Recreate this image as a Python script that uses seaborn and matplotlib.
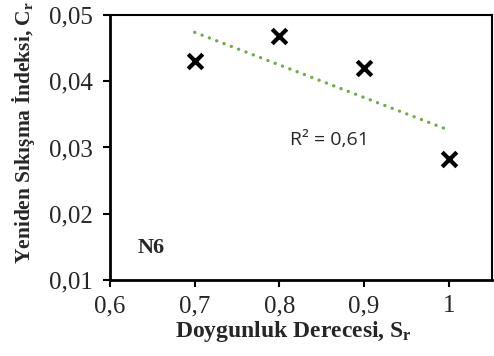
import numpy as np
import pandas as pd
import seaborn as sns
import matplotlib
matplotlib.use("Agg")
import matplotlib.pyplot as plt

sns.set_style("white")
plt.rcParams['font.family'] = ['Liberation Serif', 'DejaVu Serif']
plt.rcParams['mathtext.default'] = 'regular'

sr = [0.7, 0.8, 0.9, 1.0]
cr = [0.0430, 0.0468, 0.0420, 0.0282]
xticks = [0.6, 0.7, 0.8, 0.9, 1.0]
xtick_labels = ["0,6", "0,7", "0,8", "0,9", "1"]
yticks = [0.01, 0.02, 0.03, 0.04, 0.05]
ytick_labels = ["0,01", "0,02", "0,03", "0,04", "0,05"]

df = pd.DataFrame({"Sr": sr, "Cr": cr})

fig = plt.figure(figsize=(4.94, 3.56), dpi=100)
ax = fig.add_axes([0.2227, 0.2135, 0.7733, 0.7445])

sns.regplot(data=df, x="Sr", y="Cr", ax=ax, scatter=False, ci=None, truncate=True,
            line_kws=dict(color="#70ad47", linestyle=(0, (0.05, 2.3)), linewidth=2.4,
                          dash_capstyle="round"))
sns.scatterplot(data=df, x="Sr", y="Cr", ax=ax, marker="x", color="black", s=110,
                linewidth=3, zorder=5)

ax.set_xlim(0.6, 1.051)
ax.set_ylim(0.01, 0.05)
ax.set_xticks(xticks)
ax.set_xticklabels(xtick_labels)
ax.set_yticks(yticks)
ax.set_yticklabels(ytick_labels)
ax.tick_params(axis="both", labelsize=18, direction="out", length=5, width=1.5,
               bottom=True, left=True, color="black")
ax.tick_params(axis="x", pad=6)
ax.tick_params(axis="y", pad=7)
for s in ax.spines.values():
    s.set_color("black")
    s.set_linewidth(1.5)
ax.spines["left"].set_linewidth(2)
ax.spines["bottom"].set_linewidth(2)

ax.set_xlabel("Doygunluk Derecesi, S$_{r}$", fontsize=17, fontweight="bold", labelpad=1)
ax.set_ylabel("Yeniden Sıkışma İndeksi, C$_{r}$", fontsize=15.5, fontweight="bold", labelpad=9)
ax.xaxis.label.set_x(0.479)
ax.yaxis.label.set_y(0.555)

ax.text(0.8125, 0.0311, "R² = 0,61", fontsize=14, family=["Open Sans", "DejaVu Sans"],
        ha="left", va="center")
ax.text(0.633, 0.0148, "N6", fontsize=16, fontweight="bold", ha="left", va="center")

fig.savefig("out.png", dpi=100)
